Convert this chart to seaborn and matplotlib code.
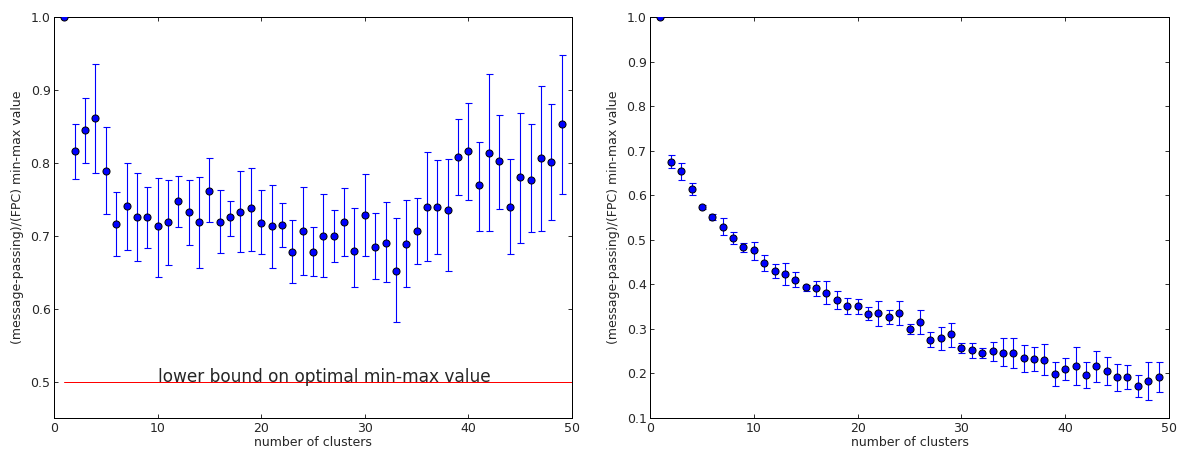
import numpy as np
import matplotlib
matplotlib.use("Agg")
import matplotlib.pyplot as plt
import seaborn as sns

# number of clusters (shared x for both panels)
clusters = list(range(1, 50))

# left panel: ratio and error-bar extents
left_mean = [1.000, 0.816, 0.845, 0.861, 0.789, 0.716, 0.741, 0.726, 0.725, 0.713,
             0.719, 0.747, 0.733, 0.719, 0.762, 0.719, 0.725, 0.733, 0.738, 0.718,
             0.713, 0.715, 0.677, 0.706, 0.678, 0.700, 0.700, 0.719, 0.679, 0.728,
             0.685, 0.690, 0.652, 0.689, 0.707, 0.739, 0.740, 0.735, 0.808, 0.816,
             0.769, 0.814, 0.802, 0.740, 0.780, 0.777, 0.806, 0.801, 0.853]
left_low = [1.000, 0.778, 0.800, 0.786, 0.730, 0.672, 0.681, 0.665, 0.683, 0.644,
            0.660, 0.712, 0.687, 0.656, 0.719, 0.676, 0.700, 0.677, 0.679, 0.675,
            0.656, 0.684, 0.635, 0.646, 0.645, 0.643, 0.664, 0.672, 0.629, 0.672,
            0.640, 0.637, 0.581, 0.629, 0.661, 0.665, 0.675, 0.651, 0.756, 0.749,
            0.707, 0.706, 0.737, 0.675, 0.690, 0.705, 0.707, 0.722, 0.757]
left_high = [1.000, 0.853, 0.889, 0.935, 0.849, 0.760, 0.800, 0.786, 0.767, 0.779,
             0.777, 0.782, 0.777, 0.780, 0.806, 0.763, 0.748, 0.789, 0.793, 0.763,
             0.770, 0.745, 0.722, 0.767, 0.712, 0.757, 0.735, 0.765, 0.738, 0.784,
             0.731, 0.746, 0.724, 0.749, 0.752, 0.815, 0.804, 0.805, 0.860, 0.882,
             0.828, 0.922, 0.866, 0.805, 0.869, 0.853, 0.906, 0.880, 0.948]

# right panel
right_mean = [1.000, 0.675, 0.654, 0.615, 0.573, 0.550, 0.529, 0.505, 0.483, 0.476,
              0.448, 0.430, 0.423, 0.410, 0.393, 0.391, 0.381, 0.365, 0.352, 0.351,
              0.334, 0.335, 0.327, 0.336, 0.300, 0.316, 0.276, 0.279, 0.288, 0.257,
              0.252, 0.245, 0.250, 0.247, 0.247, 0.234, 0.233, 0.230, 0.199, 0.211,
              0.217, 0.197, 0.217, 0.205, 0.191, 0.192, 0.171, 0.184, 0.193]
right_low = [1.000, 0.661, 0.635, 0.601, 0.568, 0.544, 0.511, 0.491, 0.473, 0.455,
             0.430, 0.415, 0.399, 0.393, 0.385, 0.374, 0.355, 0.345, 0.334, 0.334,
             0.319, 0.307, 0.310, 0.309, 0.289, 0.289, 0.259, 0.252, 0.260, 0.247,
             0.235, 0.235, 0.227, 0.216, 0.212, 0.203, 0.205, 0.196, 0.172, 0.186,
             0.174, 0.168, 0.181, 0.175, 0.160, 0.165, 0.147, 0.141, 0.158]
right_high = [1.000, 0.690, 0.672, 0.628, 0.578, 0.557, 0.548, 0.518, 0.492, 0.495,
              0.466, 0.445, 0.448, 0.427, 0.399, 0.407, 0.408, 0.384, 0.369, 0.368,
              0.349, 0.362, 0.343, 0.363, 0.311, 0.342, 0.292, 0.305, 0.314, 0.268,
              0.269, 0.256, 0.271, 0.280, 0.280, 0.263, 0.260, 0.265, 0.226, 0.234,
              0.260, 0.226, 0.251, 0.236, 0.221, 0.219, 0.196, 0.226, 0.225]

bound_x = [1, 50]
bound_y = [0.5, 0.5]

sns.set_style("ticks", {"xtick.direction": "in", "ytick.direction": "in"})
plt.rcParams["font.family"] = ["DejaVu Sans"]
plt.rcParams["xtick.top"] = True
plt.rcParams["ytick.right"] = True

W, H = 1179, 452
fig = plt.figure(figsize=(W / 72, H / 72), dpi=72)
ax1 = fig.add_axes([54 / W, 1 - 418 / H, (572 - 54) / W, (418 - 17) / H])
ax2 = fig.add_axes([650 / W, 1 - 418 / H, (1169 - 650) / W, (418 - 17) / H])


def draw_panel(ax, mean, low, high):
    mean = np.array(mean)
    yerr = [mean - np.array(low), np.array(high) - mean]
    ax.errorbar(clusters, mean, yerr=yerr, fmt="none", ecolor="#0000ff",
                elinewidth=1.1, capsize=3.5, capthick=1.1)
    sns.scatterplot(x=clusters, y=mean, ax=ax, color="#0000ff", edgecolor="k",
                    linewidth=1, s=50, zorder=3)
    ax.set_xlim(0, 50)
    ax.set_xlabel("number of clusters", fontsize=12.5, labelpad=2)
    ax.set_ylabel("(message-passing)/(FPC) min-max value", fontsize=12.5, labelpad=6)
    ax.tick_params(labelsize=12.5, length=4, width=1, color="#333333")
    for s in ax.spines.values():
        s.set_linewidth(1)
        s.set_color("black")


draw_panel(ax1, left_mean, left_low, left_high)
sns.lineplot(x=bound_x, y=bound_y, ax=ax1, color="#ff0000", linewidth=1)
ax1.text(10, 0.5, "lower bound on optimal min-max value", fontsize=17)
ax1.set_ylim(0.45, 1.0)
ax1.set_yticks([0.5, 0.6, 0.7, 0.8, 0.9, 1.0])

draw_panel(ax2, right_mean, right_low, right_high)
ax2.set_ylim(0.1, 1.0)
ax2.set_yticks(np.arange(0.1, 1.01, 0.1))

fig.savefig("out.png", dpi=72)
